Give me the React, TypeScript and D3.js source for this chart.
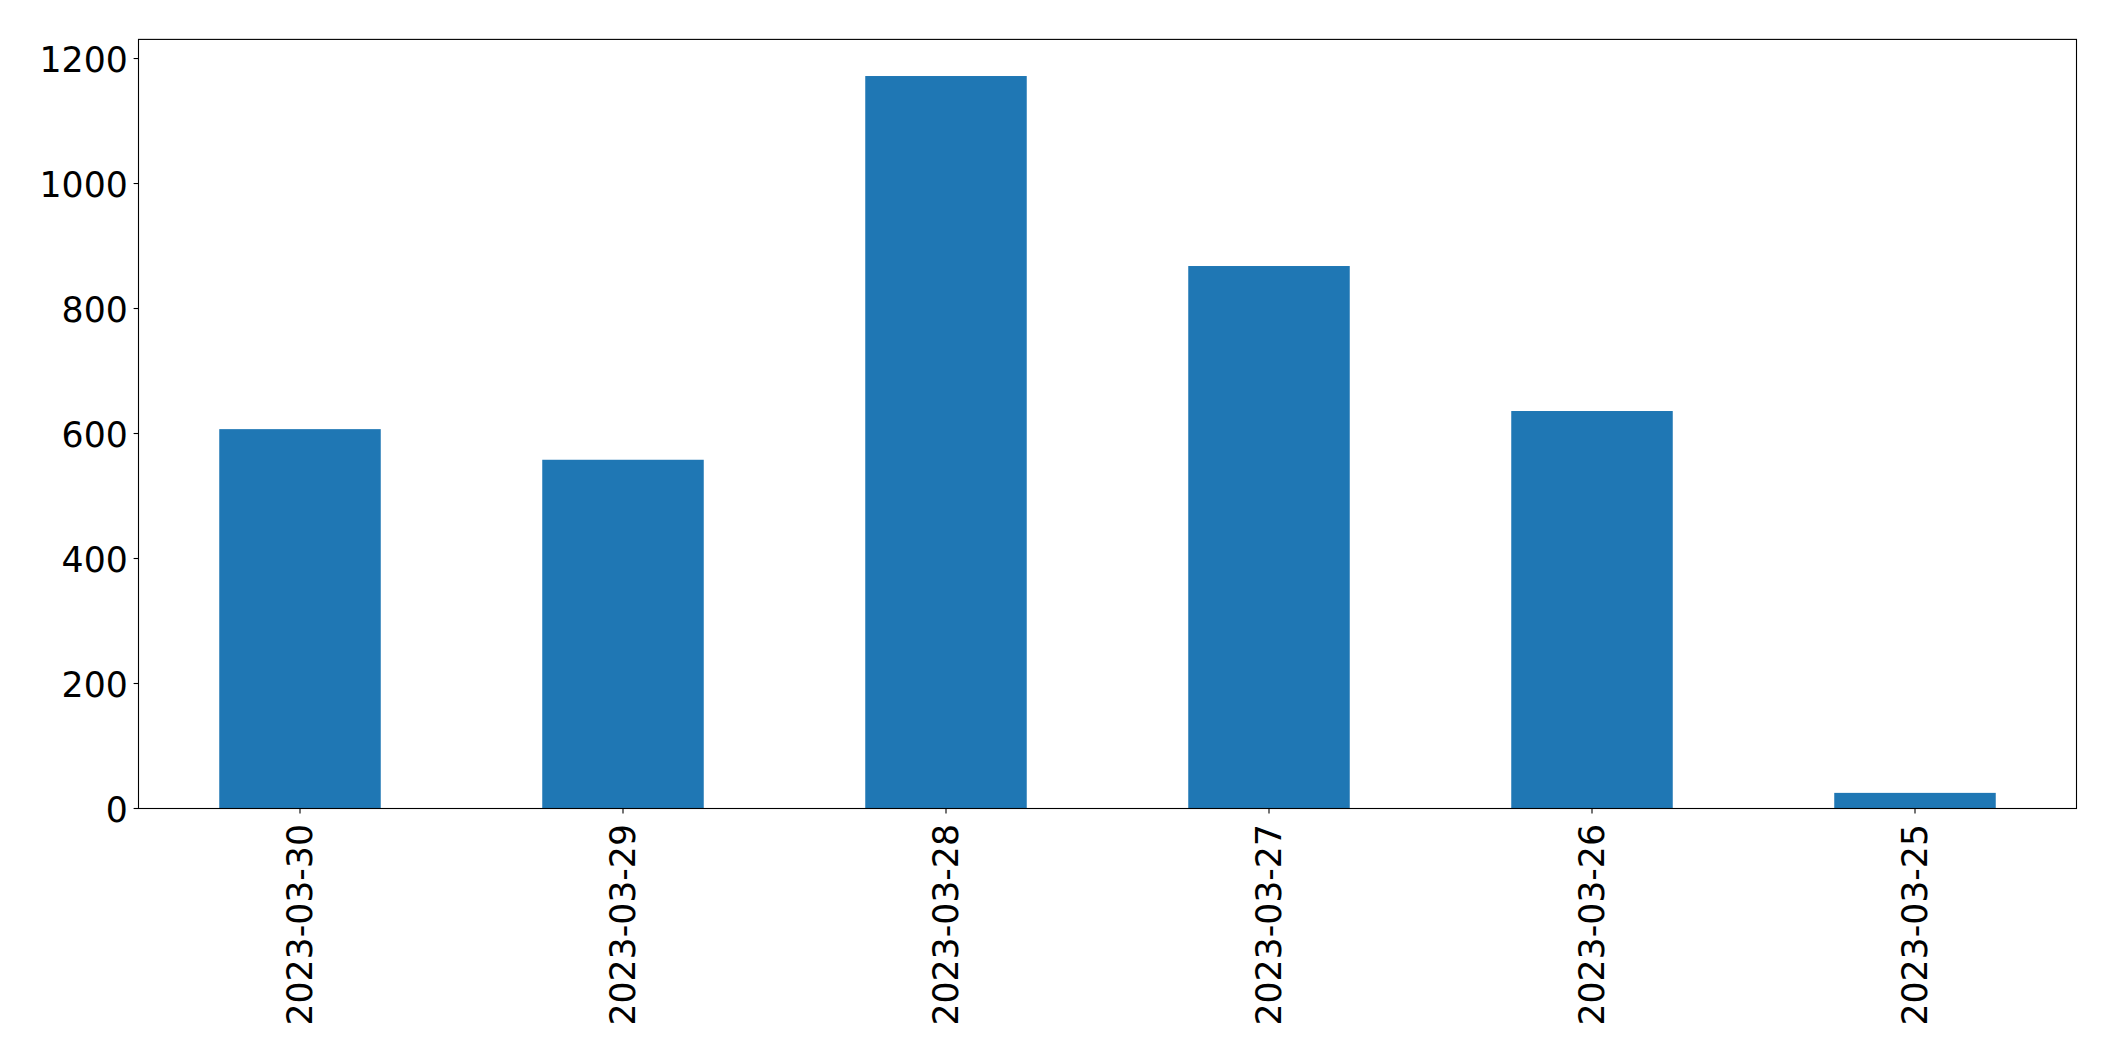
import React from "react";
import * as d3 from "d3";

const categories = ["2023-03-30", "2023-03-29", "2023-03-28", "2023-03-27", "2023-03-26", "2023-03-25"];
const values = [607, 558, 1172, 868, 636, 25];
const yTicks = [0, 200, 400, 600, 800, 1000, 1200];

const W = 2115;
const H = 1061;
const margin = { left: 138.5, right: 2076.5, top: 39.4, bottom: 808.5 };
const FONT = "DejaVu Sans";
const FS = 34.7;

export default function App() {
  const x = d3
    .scaleBand<string>()
    .domain(categories)
    .range([margin.left, margin.right])
    .paddingInner(0.5)
    .paddingOuter(0.25);
  const yMax = (d3.max(values) as number) * 1.05;
  const y = d3.scaleLinear().domain([0, yMax]).range([margin.bottom, margin.top]);
  const bw = x.bandwidth();

  return (
    <svg
      width={W}
      height={H}
      style={{ position: "absolute", left: 0, top: 0, background: "#fff" }}
      fontFamily={FONT}
    >
      <rect x={0} y={0} width={W} height={H} fill="#fff" />
      {categories.map((c, i) => (
        <rect
          key={c}
          x={x(c)}
          y={y(values[i])}
          width={bw}
          height={y(0) - y(values[i])}
          fill="#1f77b4"
        />
      ))}
      <rect
        x={margin.left}
        y={margin.top}
        width={margin.right - margin.left}
        height={margin.bottom - margin.top}
        fill="none"
        stroke="#000"
        strokeWidth={1.1}
      />
      {yTicks.map((t) => (
        <g key={t}>
          <line x1={margin.left - 4.9} x2={margin.left} y1={y(t)} y2={y(t)} stroke="#000" strokeWidth={1.1} />
          <text x={127.8} y={y(t) + 13} textAnchor="end" fontSize={FS} fill="#000">
            {t}
          </text>
        </g>
      ))}
      {categories.map((c) => {
        const cx = (x(c) as number) + bw / 2;
        return (
          <g key={c}>
            <line x1={cx} x2={cx} y1={margin.bottom} y2={margin.bottom + 4.9} stroke="#000" strokeWidth={1.1} />
            <text
              transform={`translate(${cx + 12.4},${824}) rotate(-90)`}
              textAnchor="end"
              fontSize={FS}
              fill="#000"
            >
              {c}
            </text>
          </g>
        );
      })}
    </svg>
  );
}
